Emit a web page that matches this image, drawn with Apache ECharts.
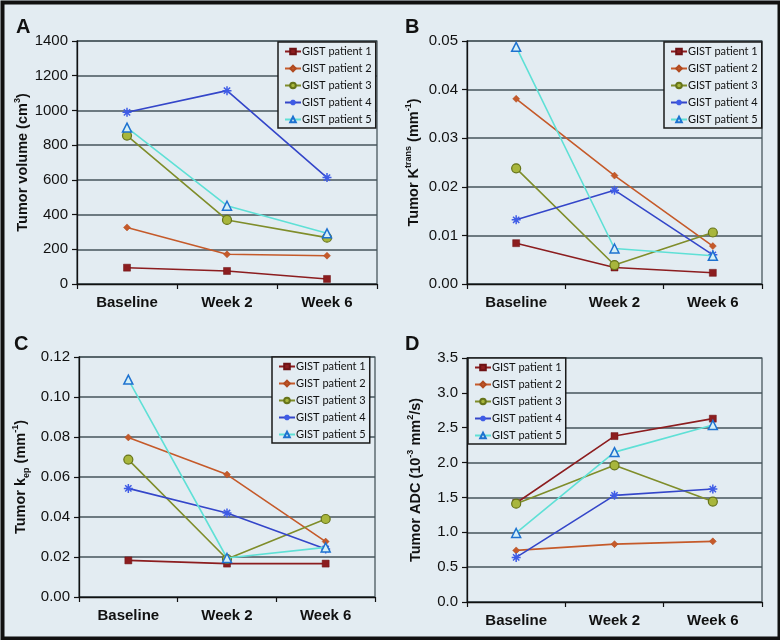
<!DOCTYPE html>
<html>
<head>
<meta charset="utf-8">
<script src="https://cdn.jsdelivr.net/npm/echarts@6/dist/echarts.min.js"></script>
<style>
html,body{margin:0;padding:0;background:#e3ecf2;}
#chart{width:780px;height:640px;}
</style>
</head>
<body>
<div id="chart"></div>
<script>
// ---- data ----
const categories = ['Baseline', 'Week 2', 'Week 6'];
const patients = ['GIST patient 1', 'GIST patient 2', 'GIST patient 3', 'GIST patient 4', 'GIST patient 5'];

// Panel A: tumor volume (cm3)
const volumeP1 = [94, 75, 29];
const volumeP2 = [326, 171, 163];
const volumeP3 = [855, 369, 267];
const volumeP4 = [989, 1114, 613];
const volumeP5 = [901, 451, 292];

// Panel B: Ktrans (mm-1)
const ktransP1 = [0.0084, 0.0034, 0.0023];
const ktransP2 = [0.0381, 0.0223, 0.0078];
const ktransP3 = [0.0238, 0.0039, 0.0106];
const ktransP4 = [0.0132, 0.0193, 0.0060];
const ktransP5 = [0.0488, 0.0073, 0.0058];

// Panel C: kep (mm-1)
const kepP1 = [0.0183, 0.0167, 0.0167];
const kepP2 = [0.0798, 0.0612, 0.0277];
const kepP3 = [0.0687, 0.0190, 0.0390];
const kepP4 = [0.0543, 0.0420, 0.0240];
const kepP5 = [0.1087, 0.0195, 0.0248];

// Panel D: ADC (10-3 mm2/s)
const adcP1 = [1.42, 2.38, 2.63];
const adcP2 = [0.74, 0.83, 0.87];
const adcP3 = [1.41, 1.96, 1.44];
const adcP4 = [0.64, 1.53, 1.62];
const adcP5 = [0.99, 2.15, 2.54];

const panelData = [
  [volumeP1, volumeP2, volumeP3, volumeP4, volumeP5],
  [ktransP1, ktransP2, ktransP3, ktransP4, ktransP5],
  [kepP1, kepP2, kepP3, kepP4, kepP5],
  [adcP1, adcP2, adcP3, adcP4, adcP5]
];
const yMax = [1400, 0.05, 0.12, 3.5];
const yStep = [200, 0.01, 0.02, 0.5];
const yDecimals = [0, 2, 2, 1];
const panelLetters = ['A', 'B', 'C', 'D'];

// ---- styles ----
const grids = [
  {left: 77, top: 41, width: 300, height: 243},
  {left: 467, top: 41, width: 295, height: 243},
  {left: 79, top: 357, width: 296, height: 240},
  {left: 467, top: 358, width: 295, height: 244}
];
const nameGaps = [41, 43, 48, 41];
const legendPos = [
  {left: 278, top: 42},
  {left: 664, top: 42},
  {left: 272, top: 357},
  {left: 468, top: 358}
];
const letterPos = [[16, 17], [405, 17], [14, 334], [405, 334]];

const rich = {
  b: {fontFamily: 'Liberation Sans, Arial', fontWeight: 'bold', fontSize: 14.5, color: '#111', lineHeight: 20},
  sup: {fontFamily: 'Liberation Sans, Arial', fontWeight: 'bold', fontSize: 9, color: '#111', verticalAlign: 'top', lineHeight: 20, padding: [0, 0, 6, 0]},
  sub: {fontFamily: 'Liberation Sans, Arial', fontWeight: 'bold', fontSize: 9, color: '#111', verticalAlign: 'bottom', lineHeight: 20, padding: [6, 0, 0, 0]}
};
const axisNames = [
  '{b|Tumor volume (cm}{sup|3}{b|)}',
  '{b|Tumor K}{sup|trans}{b| (mm}{sup|-1}{b|)}',
  '{b|Tumor k}{sub|ep}{b| (mm}{sup|-1}{b|)}',
  '{b|Tumor ADC (10}{sup|-3}{b| mm}{sup|2}{b|/s)}'
];

const asterisk = 'path://M0,5 L10,5 M5,0 L5,10 M1.5,1.5 L8.5,8.5 M8.5,1.5 L1.5,8.5';
const seriesStyles = [
  {line: '#8c1d1f', symbol: 'rect', size: 7, item: {color: '#8c1d1f', borderColor: '#6e1214', borderWidth: 0.5}},
  {line: '#c55a2a', symbol: 'diamond', size: 7, item: {color: '#c55a2a', borderColor: '#b04a20', borderWidth: 0.5}},
  {line: '#7f8d2a', symbol: 'circle', size: 9, item: {color: '#a8b63c', borderColor: '#66741a', borderWidth: 1.2}},
  {line: '#3446c9', symbol: asterisk, size: 9, item: {color: 'rgba(0,0,0,0)', borderColor: '#3f5ce6', borderWidth: 1.5}},
  {line: '#5fe0d6', symbol: 'triangle', size: 9, item: {color: '#d6f0f6', borderColor: '#1e72d0', borderWidth: 1.5}}
];

const xAxis = [], yAxis = [], series = [], legend = [], graphic = [];
grids.forEach(function (g, i) {
  xAxis.push({
    type: 'category', gridIndex: i, data: categories, boundaryGap: true,
    axisLine: {lineStyle: {color: '#111', width: 1.3}},
    axisTick: {show: true, length: 5, lineStyle: {color: '#111', width: 1.2}},
    axisLabel: {fontFamily: 'Liberation Sans, Arial', fontWeight: 'bold', fontSize: 15, color: '#111', margin: 11},
    splitLine: {show: false}
  });
  yAxis.push({
    type: 'value', gridIndex: i, min: 0, max: yMax[i], interval: yStep[i],
    name: axisNames[i], nameLocation: 'middle', nameRotate: 90, nameGap: nameGaps[i],
    nameTextStyle: {rich: rich},
    axisLine: {show: true, lineStyle: {color: '#111', width: 1.3}},
    axisTick: {show: true, length: 5, lineStyle: {color: '#111', width: 1.2}},
    axisLabel: {fontFamily: 'Liberation Sans, Arial', fontSize: 15, color: '#111', margin: 9,
      formatter: (function (d) { return function (v) { return v.toFixed(d); }; })(yDecimals[i])},
    splitLine: {show: true, lineStyle: {color: '#46555b', width: 1.5}}
  });
  panelData[i].forEach(function (vals, p) {
    const s = seriesStyles[p];
    series.push({
      type: 'line', name: patients[p], xAxisIndex: i, yAxisIndex: i, data: vals,
      symbol: s.symbol, symbolSize: s.size, showAllSymbol: true,
      lineStyle: {color: s.line, width: 1.6},
      itemStyle: s.item, z: 3 + p, animation: false
    });
  });
  legend.push({
    left: legendPos[i].left, top: legendPos[i].top, orient: 'vertical',
    data: patients.slice(), show: true,
    backgroundColor: '#e3ecf2', borderColor: '#1a1a1a', borderWidth: 1.5, borderRadius: 0,
    padding: [4, 4, 3, 6], itemGap: 6, itemWidth: 16, itemHeight: 7,
    textStyle: {fontFamily: 'Lato, Open Sans, sans-serif', fontSize: 11, color: '#111', padding: [0, 0, 0, -4]},
    selectedMode: false
  });
  graphic.push({
    type: 'text', left: letterPos[i][0], top: letterPos[i][1],
    style: {text: panelLetters[i], font: 'bold 20px "Liberation Sans", Arial', fill: '#111'}
  });
});
graphic.push({
  type: 'rect', left: 0, top: 0, z: 100,
  shape: {x: 0, y: 0, width: 777, height: 636},
  style: {fill: 'none', stroke: '#111', lineWidth: 4}
});

const chart = echarts.init(document.getElementById('chart'), null, {renderer: 'canvas'});
chart.setOption({
  backgroundColor: '#e3ecf2',
  animation: false,
  grid: grids.map(function (g) { return Object.assign({show: true, borderColor: '#3d4b51', borderWidth: 1.2, backgroundColor: 'transparent'}, g); }),
  xAxis: xAxis,
  yAxis: yAxis,
  legend: legend,
  series: series,
  graphic: graphic
});
</script>
</body>
</html>
